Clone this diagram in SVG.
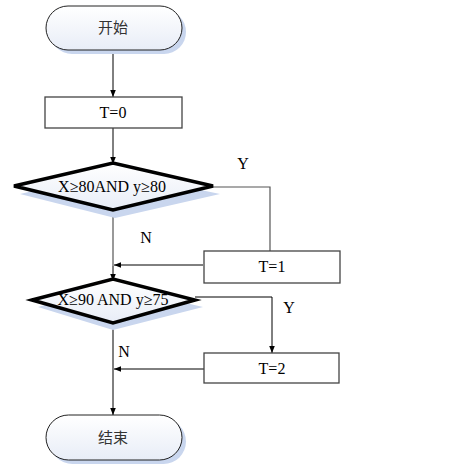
<svg xmlns="http://www.w3.org/2000/svg" width="452" height="473" viewBox="0 0 452 473">
<defs>
<linearGradient id="g" x1="0" y1="0" x2="0" y2="1">
<stop offset="0" stop-color="#ffffff"/>
<stop offset="1" stop-color="#e8edf7"/>
</linearGradient>
<marker id="a" viewBox="0 0 10 10" refX="10" refY="5" markerWidth="7" markerHeight="7" orient="auto" markerUnits="userSpaceOnUse">
<path d="M0,1 L10,5 L0,9 Z" fill="#000"/>
</marker>
<style>
.sh{fill:#c9d6ee;stroke:none}
.term{fill:url(#g);stroke:#222;stroke-width:1}
.box{fill:#fff;stroke:#444;stroke-width:1.3}
.dia{fill:url(#g);stroke:#000;stroke-width:3.5;stroke-linejoin:miter}
.t{font-family:"Liberation Serif",serif;font-size:16px;fill:#000;text-anchor:middle}
.c{font-family:"Noto Sans CJK SC",sans-serif;font-size:15px;fill:#333;text-anchor:middle}
.l{fill:none;stroke:#555;stroke-width:1.2}
.la{fill:none;stroke:#000;stroke-width:1}
</style>
</defs>
<g id="connectors">
<line class="la" x1="113" y1="50" x2="113" y2="97" marker-end="url(#a)"/>
<line class="la" x1="113" y1="128" x2="113" y2="164" marker-end="url(#a)"/>
<line class="l" x1="113" y1="210" x2="113" y2="266"/>
<polyline class="l" points="213,187 270,187 270,251"/>
<line class="la" x1="203" y1="265" x2="114" y2="265" marker-end="url(#a)"/>
<line class="la" x1="113" y1="266" x2="113" y2="281" marker-end="url(#a)"/>
<polyline class="la" points="195,297 272,297 272,353" marker-end="url(#a)"/>
<line class="la" x1="204" y1="369" x2="114" y2="369" marker-end="url(#a)"/>
<line class="la" x1="113" y1="324" x2="113" y2="415" marker-end="url(#a)"/>
<text class="t" x="243" y="169">Y</text>
<text class="t" x="146" y="243">N</text>
<text class="t" x="289" y="313">Y</text>
<text class="t" x="124" y="357">N</text>
</g>
<g id="start">
<rect class="sh" x="50" y="10" width="136" height="44" rx="22"/>
<rect class="term" x="46" y="6" width="136" height="44" rx="22"/>
<text class="c" x="113" y="33">开始</text>
</g>
<g id="t0">
<rect class="box" x="45" y="97" width="137" height="31"/>
<text class="t" x="113" y="118">T=0</text>
</g>
<g id="d1">
<polygon class="sh" points="20,194 115,172 220,194 115,218"/>
<polygon class="dia" points="14,186 113,163 213,186 113,210"/>
<text class="t" x="112" y="192">X≥80AND y≥80</text>
</g>
<g id="t1">
<rect class="box" x="204" y="251" width="136" height="32"/>
<text class="t" x="272" y="272">T=1</text>
</g>
<g id="d2">
<polygon class="sh" points="38,307 113,286 203,307 113,330"/>
<polygon class="dia" points="32,300 113,279 195,300 113,323"/>
<text class="t" x="113" y="305">X≥90 AND y≥75</text>
</g>
<g id="t2">
<rect class="box" x="204" y="353" width="135" height="30"/>
<text class="t" x="272" y="374">T=2</text>
</g>
<g id="end">
<rect class="sh" x="50" y="419" width="136" height="45" rx="22.5"/>
<rect class="term" x="46" y="415" width="136" height="45" rx="22.5"/>
<text class="c" x="113" y="443">结束</text>
</g>
</svg>
